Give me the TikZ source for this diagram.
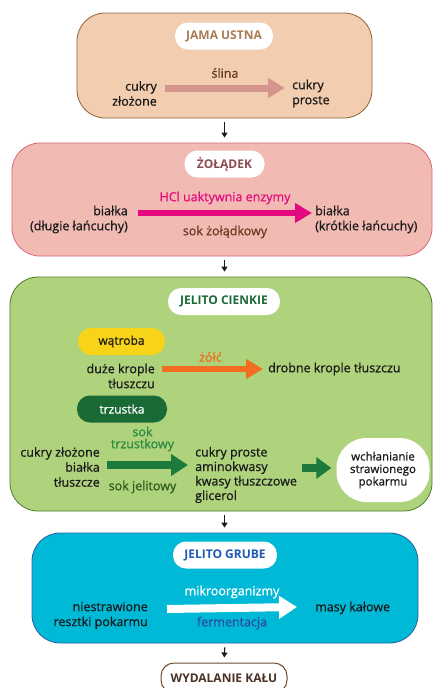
\documentclass[tikz,border=0pt]{standalone}
\usepackage{fontspec}
\setmainfont{Open Sans}
\newfontfamily\semi{Open Sans}[FakeBold=0.7]
\definecolor{ink}{HTML}{1A1A1A}
\definecolor{jamaFill}{HTML}{F2CDB0}
\definecolor{jamaLine}{HTML}{8C6239}
\definecolor{jamaTitle}{HTML}{A87B52}
\definecolor{slinaC}{HTML}{D4958D}
\definecolor{zolFill}{HTML}{F1BBB3}
\definecolor{zolLine}{HTML}{D9667A}
\definecolor{zolTitle}{HTML}{8E4A4F}
\definecolor{hclC}{HTML}{E5097F}
\definecolor{zolSok}{HTML}{6B3A24}
\definecolor{jelFill}{HTML}{AED37C}
\definecolor{jelLine}{HTML}{4D7C2B}
\definecolor{jelTitle}{HTML}{1B6B36}
\definecolor{watrobaC}{HTML}{F7D417}
\definecolor{zolcC}{HTML}{F26C21}
\definecolor{trzustkaC}{HTML}{1A6A36}
\definecolor{sokTrz}{HTML}{2A8A3F}
\definecolor{gArrow}{HTML}{1D7A3C}
\definecolor{sokJel}{HTML}{2F5A1C}
\definecolor{gruFill}{HTML}{00B9D6}
\definecolor{gruLine}{HTML}{2E5FA8}
\definecolor{gruTitle}{HTML}{1F5BB5}
\definecolor{fermC}{HTML}{2C4C9E}
\definecolor{wydLine}{HTML}{6B4A2E}
\definecolor{wydText}{HTML}{4A3325}
\usetikzlibrary{arrows.meta,calc}

\begin{document}
\begin{tikzpicture}[x=1pt,y=-1pt,
  stage/.style={rounded corners=28pt,line width=0.8pt},
  pill/.style={fill=white,rounded corners=13pt,minimum height=27pt,inner sep=0pt,
    font=\bfseries\fontsize{12}{14}\selectfont},
  txt/.style={inner sep=0pt,text=ink,font=\semi\fontsize{12.5}{15}\selectfont},
  lbl/.style={inner sep=0pt,font=\semi\fontsize{12.5}{13}\selectfont,align=center},
  fat/.style={-{Triangle[length=17pt,width=19pt]},line width=7pt},
  down/.style={-{Triangle[length=5pt,width=6pt]},line width=1.1pt,ink,
    shorten <=4pt,shorten >=5pt}]
\useasboundingbox (0,0) rectangle (433,688);

% jama ustna
\node[stage,fill=jamaFill,draw=jamaLine,minimum width=295pt,minimum height=105pt] (jama) at (224.5,65.5) {};
\node[pill,text=jamaTitle,minimum width=98pt] (jamaT) at (224,36) {JAMA USTNA};
\node[txt,anchor=east,align=right] (jamaIn) at (157,93.5) {cukry\\złożone};
\node[txt,anchor=west,align=left] (jamaOut) at (292,93.5) {cukry\\proste};
\draw[fat,slinaC] ($(jamaIn.east)+(8,-5.5)$) -- node[lbl,text=zolSok,yshift=15pt]{ślina} ($(jamaOut.west)+(-7,-5.5)$);

% zoladek
\node[stage,fill=zolFill,draw=zolLine,minimum width=420pt,minimum height=113pt] (zol) at (222,199.5) {};
\node[pill,text=zolTitle,minimum width=80pt] (zolT) at (224.5,164) {ŻOŁĄDEK};
\node[txt,anchor=east,align=right] (zolIn) at (128,219.5) {białka\\(długie łańcuchy)};
\node[txt,anchor=west,align=left] (zolOut) at (315,219.5) {białka\\(krótkie łańcuchy)};
\draw[fat,hclC,line width=6pt] ($(zolIn.east)+(10,-6.5)$) -- node[lbl,text=hclC,yshift=15pt]{HCl uaktywnia enzymy}
  node[lbl,text=zolSok,yshift=-19pt]{sok żołądkowy} ($(zolOut.west)+(-3,-6.5)$);

% jelito cienkie
\node[stage,fill=jelFill,draw=jelLine,minimum width=422pt,minimum height=234pt] (jel) at (221,394) {};
\node[pill,text=jelTitle,minimum width=112pt] (jelT) at (224,301.5) {JELITO CIENKIE};
\node[pill,fill=watrobaC,text=ink,minimum width=87pt,font=\semi\fontsize{12}{14}\selectfont] (watroba) at (121.5,341.5) {wątroba};
\node[txt,anchor=east,align=right] (tluszczIn) at (155,376) {duże krople\\tłuszczu};
\node[txt,anchor=west] (tluszczOut) at (268,369) {drobne krople tłuszczu};
\draw[fat,zolcC,line width=6pt] ($(tluszczIn.east)+(7,-7)$) -- node[lbl,text=zolcC,yshift=12pt,xshift=-2pt]{żółć} ($(tluszczOut.west)+(-5,0)$);
\node[pill,fill=trzustkaC,text=white,minimum width=90pt,font=\semi\fontsize{12}{14}\selectfont] (trzustka) at (122,409) {trzustka};
\node[txt,anchor=east,align=right] (jelIn) at (100,467) {cukry złożone\\białka\\tłuszcze};
\node[txt,anchor=west,align=left,font=\semi\fontsize{12.5}{14.5}\selectfont] (jelOut) at (195,475) {cukry proste\\aminokwasy\\kwasy tłuszczowe\\glicerol};
\node[fill=white,rounded corners=30pt,minimum width=93pt,minimum height=64pt,inner sep=0pt,
  align=center,text=ink,font=\semi\fontsize{11.5}{12.5}\selectfont] (wchl) at (383,470) {wchłanianie\\strawionego\\pokarmu};
\draw[fat,gArrow,line width=8pt,-{Triangle[length=17pt,width=21pt]}] ($(jelIn.east)+(7,-2)$) --
  node[lbl,text=sokTrz,yshift=26pt,xshift=-5pt,font=\semi\fontsize{12.5}{12}\selectfont]{sok\\trzustkowy}
  node[lbl,text=sokJel,yshift=-22pt,xshift=-5pt]{sok jelitowy} ($(jelIn.east -| jelOut.west)+(-7,-2)$);
\draw[fat,gArrow,line width=8pt,-{Triangle[length=15pt,width=21pt]}] ($(jelOut.east)+(5,-7)$) -- ($(jelOut.east -| wchl.west)+(-5,-7)$);

% jelito grube
\node[stage,fill=gruFill,draw=gruLine,minimum width=386pt,minimum height=110pt] (gru) at (225,588) {};
\node[pill,text=gruTitle,minimum width=104pt] (gruT) at (225,555) {JELITO GRUBE};
\node[txt,anchor=east,align=right] (gruIn) at (148,615.5) {niestrawione\\resztki pokarmu};
\node[txt,anchor=west] (gruOut) at (315,608) {masy kałowe};
\draw[fat,white,line width=8pt,-{Triangle[length=18pt,width=22pt]}] ($(gruIn.east)+(19,-6.5)$) --
  node[lbl,text=white,yshift=16pt]{mikroorganizmy}
  node[lbl,text=fermC,yshift=-15pt]{fermentacja} ($(gruOut.west)+(-18,-1)$);

\node[draw=wydLine,line width=1pt,fill=white,rounded corners=13pt,minimum width=126pt,minimum height=30pt,
  inner sep=0pt,text=wydText,font=\bfseries\fontsize{12}{14}\selectfont] (wyd) at (224,678) {WYDALANIE KAŁU};

% przejscia
\draw[down] (jama.south) -- (jama.south |- zol.north);
\draw[down] (jama.south |- zol.south) -- (jama.south |- jel.north);
\draw[down] (jama.south |- jel.south) -- (jama.south |- gru.north);
\draw[down] (gru.south) -- (wyd.north);
\end{tikzpicture}
\end{document}
